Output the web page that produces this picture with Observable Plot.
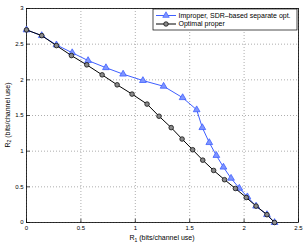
<!DOCTYPE html>
<html>
<head>
<meta charset="utf-8">
<script src="https://cdn.jsdelivr.net/npm/d3@7"></script>
<script src="https://cdn.jsdelivr.net/npm/@observablehq/plot@0.6"></script>
<style>
  html, body { margin: 0; padding: 0; background: #fff; overflow: hidden; }
  #chart svg { display: block; max-width: none !important; width: 306px !important; height: 245px !important; }
</style>
</head>
<body>
<div id="chart"></div>
<script>
// Data
const xTicks = [0, 0.5, 1, 1.5, 2, 2.5];
const yTicks = [0, 0.5, 1, 1.5, 2, 2.5, 3];

const improperR1 = [0, 0.14, 0.275, 0.42, 0.566, 0.73, 0.888, 1.07, 1.26, 1.435, 1.564, 1.616, 1.68, 1.745, 1.81, 1.88, 1.956, 2.03, 2.11, 2.21, 2.28];
const improperR2 = [2.70, 2.62, 2.49, 2.38, 2.27, 2.17, 2.08, 1.99, 1.91, 1.75, 1.58, 1.33, 1.12, 0.94, 0.776, 0.62, 0.48, 0.36, 0.23, 0.11, 0];

const properR1 = [0, 0.14, 0.275, 0.413, 0.554, 0.695, 0.833, 0.97, 1.108, 1.218, 1.33, 1.43, 1.527, 1.62, 1.72, 1.82, 1.92, 2.02, 2.11, 2.21, 2.28];
const properR2 = [2.70, 2.62, 2.48, 2.34, 2.21, 2.07, 1.93, 1.80, 1.66, 1.49, 1.33, 1.17, 1.02, 0.874, 0.73, 0.60, 0.477, 0.35, 0.23, 0.11, 0];

const seriesNames = ["Improper, SDR\u2013based separate opt.", "Optimal proper"];

const improper = improperR1.map((x, i) => ({x, y: improperR2[i]}));
const proper = properR1.map((x, i) => ({x, y: properR2[i]}));

const blue = "#3f5fff";
const W = 306, H = 245;
const mL = 26, mR = 8, mT = 8, mB = 23;

const plot = Plot.plot({
  width: W,
  height: H,
  marginLeft: mL,
  marginRight: mR,
  marginTop: mT,
  marginBottom: mB,
  style: {fontFamily: "'Liberation Sans', Arial, sans-serif", fontSize: "6px", background: "#fff", color: "#000"},
  x: {domain: [0, 2.5], label: null},
  y: {domain: [0, 3], label: null},
  marks: [
    Plot.gridX(xTicks, {stroke: "#999", strokeOpacity: 1, strokeDasharray: "1,2", strokeWidth: 0.8}),
    Plot.gridY(yTicks, {stroke: "#999", strokeOpacity: 1, strokeDasharray: "1,2", strokeWidth: 0.8}),
    Plot.ruleX(xTicks, {x: d => d, y1: 0, y2: 0.045, stroke: "#000", strokeWidth: 0.7}),
    Plot.ruleY(yTicks, {y: d => d, x1: 0, x2: 0.035, stroke: "#000", strokeWidth: 0.7}),
    Plot.axisX(xTicks, {tickSize: 0, tickPadding: 3, fontSize: 6, tickFormat: d => String(d)}),
    Plot.axisY(yTicks, {tickSize: 0, tickPadding: 3, fontSize: 6, tickFormat: d => String(d)}),
    Plot.frame({stroke: "#000", strokeWidth: 0.8}),
    Plot.line(improper, {x: "x", y: "y", stroke: blue, strokeWidth: 1}),
    Plot.dot(improper, {x: "x", y: "y", symbol: "triangle", r: 2.5, stroke: blue, fill: "#7f95ff", strokeWidth: 0.8}),
    Plot.line(proper, {x: "x", y: "y", stroke: "#000", strokeWidth: 1}),
    Plot.dot(proper, {x: "x", y: "y", symbol: "circle", r: 2.3, stroke: "#111", fill: "#8a8a8a", strokeWidth: 0.8})
  ]
});

document.getElementById("chart").appendChild(plot);

// Axis titles and legend
const svg = d3.select(plot);
const font = "'Liberation Sans', Arial, sans-serif";

const xt = svg.append("text")
  .attr("x", mL + (W - mL - mR) / 2)
  .attr("y", 240)
  .attr("text-anchor", "middle")
  .attr("font-family", font)
  .attr("font-size", 7)
  .attr("fill", "#000");
xt.append("tspan").text("R");
xt.append("tspan").attr("font-size", 5).attr("dy", 1.5).text("1");
xt.append("tspan").attr("dy", -1.5).text(" (bits/channel use)");

const yt = svg.append("text")
  .attr("transform", `translate(9.5,${mT + (H - mT - mB) / 2}) rotate(-90)`)
  .attr("text-anchor", "middle")
  .attr("font-family", font)
  .attr("font-size", 7)
  .attr("fill", "#000");
yt.append("tspan").text("R");
yt.append("tspan").attr("font-size", 5).attr("dy", 1.5).text("2");
yt.append("tspan").attr("dy", -1.5).text(" (bits/channel use)");

const lg = svg.append("g");
lg.append("rect")
  .attr("x", 153).attr("y", 9).attr("width", 144).attr("height", 21)
  .attr("fill", "#fff").attr("stroke", "#000").attr("stroke-width", 0.7);

const rows = [
  {name: seriesNames[0], color: blue, sym: d3.symbolTriangle, fill: "#7f95ff", y: 15.5},
  {name: seriesNames[1], color: "#000", sym: d3.symbolCircle, fill: "#8a8a8a", y: 24}
];
rows.forEach(r => {
  lg.append("line").attr("x1", 156).attr("x2", 176).attr("y1", r.y).attr("y2", r.y)
    .attr("stroke", r.color).attr("stroke-width", 1);
  lg.append("path").attr("d", d3.symbol(r.sym, r.sym === d3.symbolCircle ? 16 : 18)())
    .attr("transform", `translate(166,${r.y})`)
    .attr("fill", r.fill).attr("stroke", r.color).attr("stroke-width", 0.7);
  lg.append("text").attr("x", 178.5).attr("y", r.y).attr("dy", "0.35em")
    .attr("text-anchor", "start")
    .attr("font-family", font).attr("font-size", 7).attr("fill", "#000").text(r.name);
});
</script>
</body>
</html>
